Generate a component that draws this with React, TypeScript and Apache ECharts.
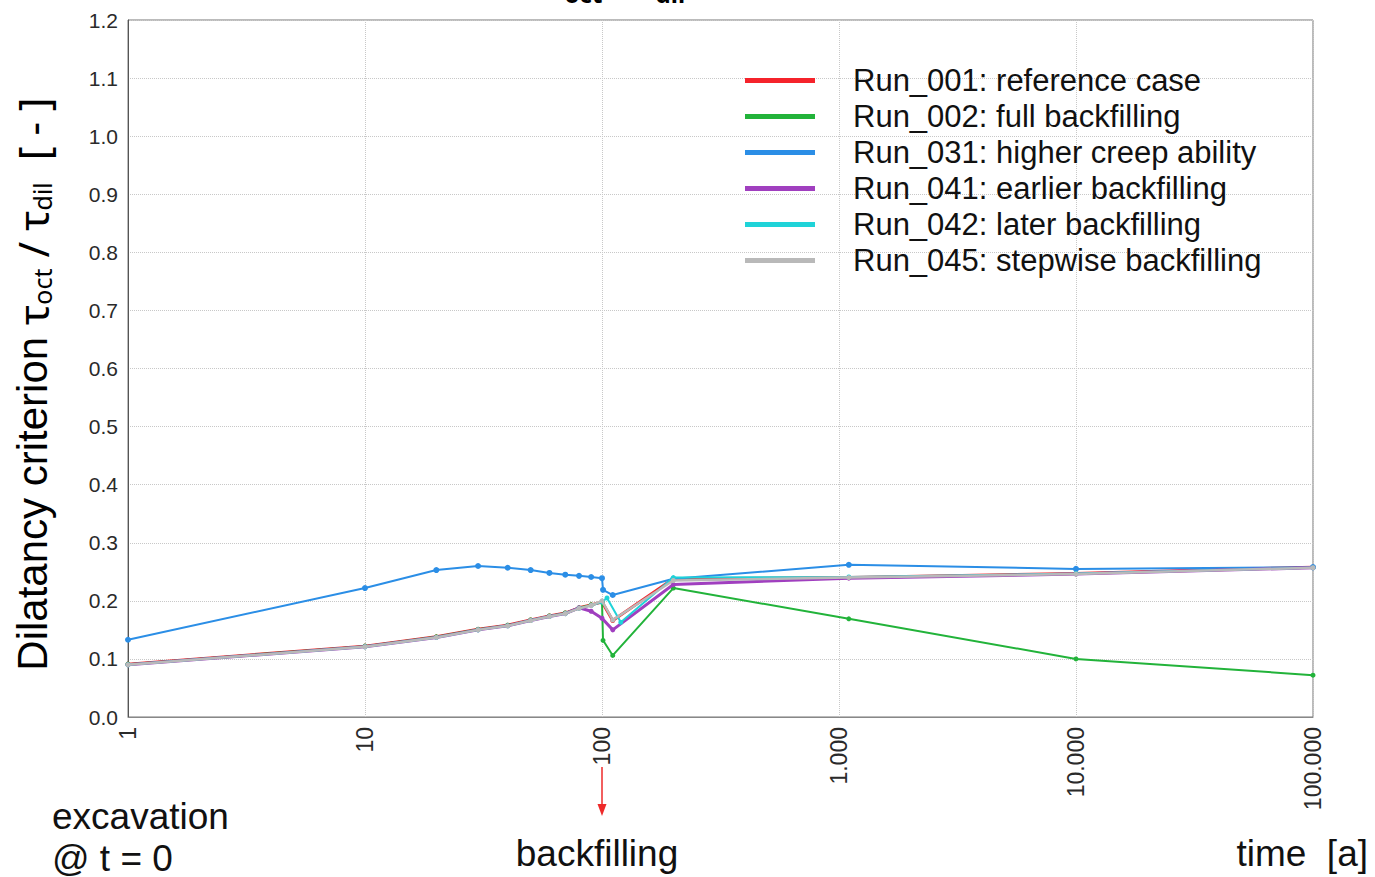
import React, { useEffect, useRef } from "react";
import * as echarts from "echarts";

const SANS = "'Liberation Sans', Arial, Helvetica, sans-serif";
const GREEK = "'Noto Sans', 'Open Sans', 'DejaVu Sans', sans-serif";

const seriesNames = [
  "Run_001: reference case",
  "Run_002: full backfilling",
  "Run_031: higher creep ability",
  "Run_041: earlier backfilling",
  "Run_042: later backfilling",
  "Run_045: stepwise backfilling",
];
const seriesColors = ["#f5232b", "#22b33a", "#2b8ee6", "#a03fbf", "#1fd3d8", "#b9b9b9"];
const seriesWidths = [3, 2, 2, 3, 2, 2.5];

const yTicks = [0, 1.2, 0.1];
const xRange = [1, 100000];

const run001Time = [1, 10, 20, 30, 40, 50, 60, 70, 80, 90, 100, 111, 200, 1100, 10000, 100000];
const run001Value = [0.091, 0.122, 0.138, 0.151, 0.158, 0.167, 0.174, 0.179, 0.188, 0.193, 0.198, 0.166, 0.238, 0.240, 0.247, 0.258];

const run002Time = [1, 10, 20, 30, 40, 50, 60, 70, 80, 90, 100, 101, 111, 200, 1100, 10000, 100000];
const run002Value = [0.091, 0.122, 0.138, 0.151, 0.158, 0.167, 0.174, 0.179, 0.188, 0.193, 0.198, 0.132, 0.106, 0.222, 0.169, 0.100, 0.072];

const run031Time = [1, 10, 20, 30, 40, 50, 60, 70, 80, 90, 100, 101, 111, 200, 1100, 10000, 100000];
const run031Value = [0.133, 0.222, 0.253, 0.260, 0.257, 0.253, 0.248, 0.245, 0.243, 0.241, 0.239, 0.219, 0.210, 0.238, 0.262, 0.255, 0.258];

const run041Time = [1, 10, 20, 30, 40, 50, 60, 70, 80, 90, 100, 111, 200, 1100, 10000, 100000];
const run041Value = [0.090, 0.121, 0.137, 0.150, 0.157, 0.166, 0.173, 0.178, 0.188, 0.182, 0.170, 0.150, 0.228, 0.239, 0.246, 0.257];

const run042Time = [1, 10, 20, 30, 40, 50, 60, 70, 80, 90, 100, 105, 120, 200, 1100, 10000, 100000];
const run042Value = [0.090, 0.121, 0.137, 0.150, 0.157, 0.166, 0.173, 0.178, 0.187, 0.192, 0.198, 0.205, 0.163, 0.240, 0.241, 0.247, 0.257];

const run045Time = [1, 10, 20, 30, 40, 50, 60, 70, 80, 90, 100, 111, 200, 1100, 10000, 100000];
const run045Value = [0.090, 0.121, 0.137, 0.150, 0.157, 0.166, 0.173, 0.178, 0.187, 0.192, 0.200, 0.167, 0.235, 0.240, 0.246, 0.257];

const allTimes = [run001Time, run002Time, run031Time, run041Time, run042Time, run045Time];
const allValues = [run001Value, run002Value, run031Value, run041Value, run042Value, run045Value];

function fmtThousands(v: number): string {
  const r = Math.round(v);
  return String(r).replace(/\B(?=(\d{3})+(?!\d))/g, ".");
}

export default function App() {
  const ref = useRef<HTMLDivElement>(null);
  useEffect(() => {
    if (!ref.current) return;
    const chart = echarts.init(ref.current, undefined, { renderer: "svg" });
    const series = seriesNames.map((name, i) => ({
      name,
      type: "line",
      data: allTimes[i].map((t, j) => [t, allValues[i][j]]),
      lineStyle: { color: seriesColors[i], width: seriesWidths[i] },
      itemStyle: { color: seriesColors[i] },
      symbol: "circle",
      symbolSize: i === 2 ? 6 : 5,
      showSymbol: true,
      z: 2 + i,
    }));
    const richTitle = {
      a: { fontFamily: SANS, fontSize: 42, lineHeight: 44, color: "#111" },
      t: { fontFamily: GREEK, fontSize: 42, lineHeight: 44, color: "#111" },
      s: { fontFamily: GREEK, fontSize: 25, lineHeight: 25, color: "#111", verticalAlign: "bottom" },
    };
    const richTop = {
      t: { fontFamily: GREEK, fontSize: 36, fontWeight: "bold", lineHeight: 40, color: "#236a9c" },
      s: { fontFamily: GREEK, fontSize: 24, fontWeight: "bold", lineHeight: 24, color: "#236a9c", verticalAlign: "bottom" },
    };
    chart.setOption({
      animation: false,
      backgroundColor: "#ffffff",
      grid: {
        left: 128,
        right: 62,
        top: 20,
        bottom: 160,
        show: true,
        borderColor: "#777",
        borderWidth: 1,
        containLabel: false,
      },
      legend: {
        orient: "vertical",
        left: 745,
        top: 65,
        padding: 0,
        itemWidth: 70,
        itemHeight: 5,
        itemGap: 5,
        icon: "rect",
        data: seriesNames,
        textStyle: {
          fontFamily: SANS,
          fontSize: 31,
          lineHeight: 30,
          color: "#111",
          padding: [0, 0, 0, 33],
        },
      },
      xAxis: {
        type: "log",
        logBase: 10,
        min: xRange[0],
        max: xRange[1],
        axisLine: { show: true, lineStyle: { color: "#888", width: 1 } },
        axisTick: { show: false },
        axisLabel: {
          rotate: 90,
          margin: 10,
          fontFamily: SANS,
          fontSize: 23,
          color: "#2a2a2a",
          formatter: (v: number) => fmtThousands(v),
        },
        splitLine: { show: true, lineStyle: { color: "#c8c8c8", type: "dotted", width: 1 } },
      },
      yAxis: {
        type: "value",
        min: yTicks[0],
        max: yTicks[1],
        interval: yTicks[2],
        axisLine: { show: true, lineStyle: { color: "#555", width: 1 } },
        axisTick: { show: false },
        axisLabel: {
          margin: 10,
          fontFamily: SANS,
          fontSize: 21,
          color: "#2a2a2a",
          formatter: (v: number) => v.toFixed(1),
        },
        splitLine: { show: true, lineStyle: { color: "#c8c8c8", type: "dotted", width: 1 } },
      },
      series,
      graphic: [
        {
          type: "text",
          x: 32,
          y: 384,
          rotation: Math.PI / 2,
          style: {
            text: "{a|Dilatancy criterion }{t|τ}{s|oct}{t| / τ}{s|dil}{t|  [ - ]}",
            rich: richTitle,
            align: "center",
            verticalAlign: "middle",
          },
        },
        {
          type: "text",
          x: 615,
          y: 5,
          style: {
            text: "{t|τ}{s|oct}{t| / τ}{s|dil}",
            rich: richTop,
            align: "center",
            verticalAlign: "bottom",
          },
        },
        {
          type: "text",
          x: 52,
          y: 816,
          style: { text: "excavation", font: `37px ${SANS}`, fill: "#111", align: "left", verticalAlign: "middle" },
        },
        {
          type: "text",
          x: 52,
          y: 858,
          style: { text: "@ t = 0", font: `37px ${SANS}`, fill: "#111", align: "left", verticalAlign: "middle" },
        },
        {
          type: "text",
          x: 597,
          y: 853,
          style: { text: "backfilling", font: `37px ${SANS}`, fill: "#111", align: "center", verticalAlign: "middle" },
        },
        {
          type: "text",
          x: 1368,
          y: 853,
          style: { text: "time  [a]", font: `37px ${SANS}`, fill: "#111", align: "right", verticalAlign: "middle" },
        },
        {
          type: "line",
          shape: { x1: 602, y1: 767, x2: 602, y2: 808 },
          style: { stroke: "#ee2a2a", lineWidth: 1.5 },
        },
        {
          type: "polygon",
          shape: { points: [[597.5, 804], [606.5, 804], [602, 816]] },
          style: { fill: "#ee2a2a" },
        },
      ],
    });
    return () => chart.dispose();
  }, []);
  return (
    <div
      ref={ref}
      style={{ position: "absolute", left: 0, top: 0, width: 1375, height: 877 }}
    />
  );
}
